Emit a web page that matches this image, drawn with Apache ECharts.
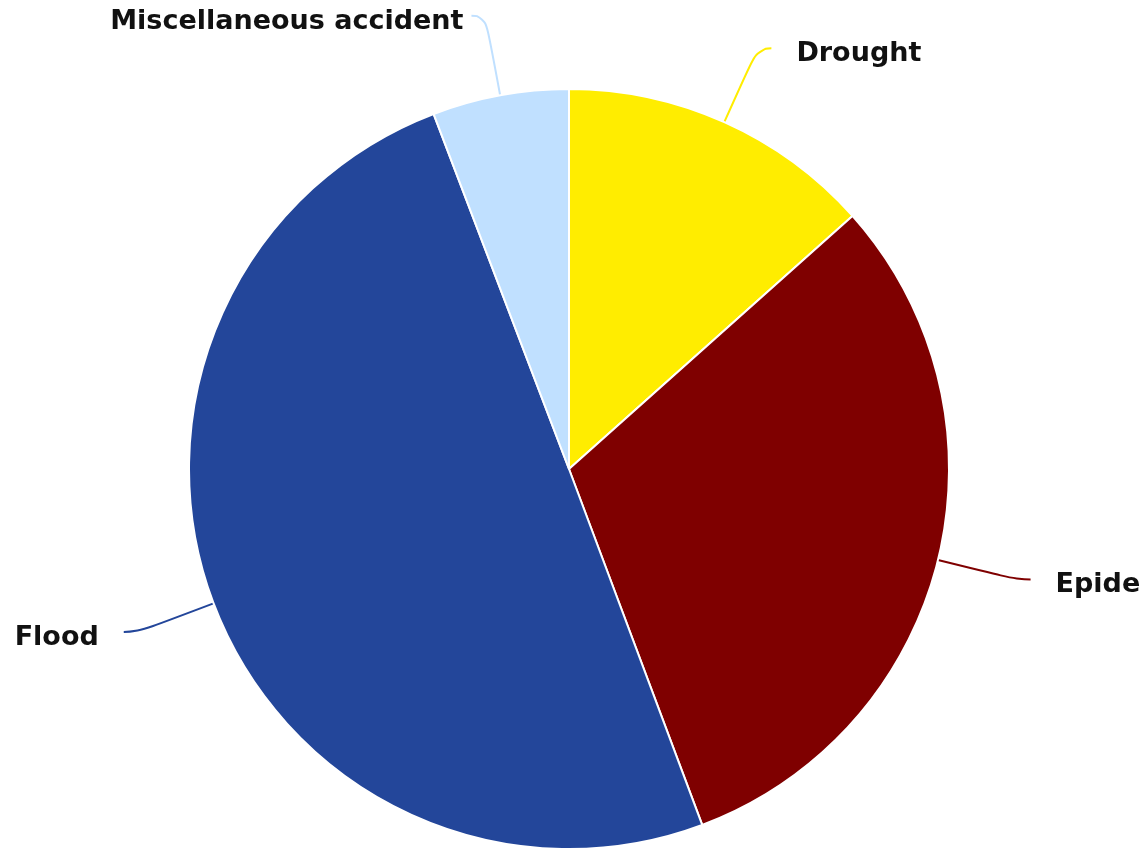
<!DOCTYPE html>
<html>
<head>
<meta charset="utf-8">
<script src="https://cdn.jsdelivr.net/npm/echarts@6/dist/echarts.min.js"></script>
<style>html,body{margin:0;padding:0;background:#fff}#c{width:1142px;height:850px}</style>
</head>
<body>
<div id="c"></div>
<script>
const categories = ['Drought', 'Epidemic', 'Flood', 'Miscellaneous accident'];
const values = [13.4, 30.9, 49.9, 5.8];
const colors = ['#FFED00', '#7F0000', '#23469A', '#C0E0FF'];

const chart = echarts.init(document.getElementById('c'), null, {renderer: 'canvas'});
chart.setOption({
  animation: false,
  backgroundColor: '#ffffff',
  series: [{
    type: 'pie',
    center: [569, 469],
    radius: 380,
    startAngle: 90,
    clockwise: true,
    avoidLabelOverlap: false,
    data: categories.map((c, i) => ({
      name: c, value: values[i], itemStyle: {color: colors[i]},
      label: i === 3 ? {distanceToLabelLine: 8} : undefined
    })),
    itemStyle: {borderColor: '#ffffff', borderWidth: 2},
    label: {
      show: true,
      formatter: '{t|{b}}',
      distanceToLabelLine: 25,
      overflow: 'none',
      width: 400,
      rich: {
        t: {
          fontFamily: 'DejaVu Sans',
          fontWeight: 'bold',
          fontSize: 27,
          color: '#111111',
          padding: [12, 0, 0, 0]
        }
      }
    },
    labelLine: {
      show: true,
      length: 81,
      length2: 14,
      smooth: 0.6,
      lineStyle: {width: 2}
    }
  }]
});
</script>
</body>
</html>
